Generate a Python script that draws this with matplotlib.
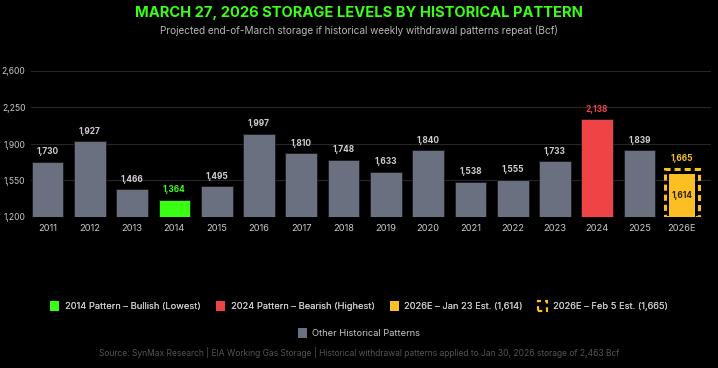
import matplotlib.pyplot as plt
from matplotlib.patches import Patch

# Data
years = ["2011", "2012", "2013", "2014", "2015", "2016", "2017", "2018",
         "2019", "2020", "2021", "2022", "2023", "2024", "2025", "2026E"]
storage = [1730, 1927, 1466, 1364, 1495, 1997, 1810, 1748,
           1633, 1840, 1538, 1555, 1733, 2138, 1839, 1614]
feb5_est = 1665
yticks = [1200, 1550, 1900, 2250, 2600]

GRAY = "#6b7080"
GREEN = "#39ff14"
RED = "#ef4446"
GOLD = "#fbbf24"
BG = "#000000"

plt.rcParams['font.family'] = ['Inter', 'DejaVu Sans']

fig = plt.figure(figsize=(7.18, 3.68), dpi=100, facecolor=BG)
ax = fig.add_axes([31 / 718, 1 - 217 / 368, 680 / 718, 146 / 368])
ax.set_facecolor(BG)

colors = []
label_colors = []
for y in years:
    if y == "2014":
        colors.append(GREEN); label_colors.append(GREEN)
    elif y == "2024":
        colors.append(RED); label_colors.append(RED)
    elif y == "2026E":
        colors.append(GOLD); label_colors.append(GOLD)
    else:
        colors.append(GRAY); label_colors.append("#d0d0d0")

x = list(range(len(years)))
base = yticks[0]
heights = [v - base for v in storage]

# all bars except the estimate
ax.bar(x[:-1], heights[:-1], width=0.75, bottom=base, color=colors[:-1],
       edgecolor="#1a1a1a", linewidth=0.6, zorder=3)
# estimate: filled Jan 23 bar and dashed Feb 5 outline
ax.bar(x[-1], heights[-1], width=0.63, bottom=base, color=GOLD, zorder=3)
ax.bar(x[-1], feb5_est - base, width=0.8, bottom=base, fill=False,
       edgecolor=GOLD, linewidth=2.2, linestyle=(0, (2, 1.3)), zorder=4)

for xi, v, c in zip(x[:-1], storage[:-1], label_colors[:-1]):
    ax.annotate(f"{v:,}", (xi, v), xytext=(0, 4), textcoords="offset points",
                ha="center", va="bottom", fontsize=6, fontweight="bold", color=c)
ax.annotate(f"{feb5_est:,}", (x[-1], feb5_est), xytext=(0, 4), textcoords="offset points",
            ha="center", va="bottom", fontsize=6, fontweight="bold", color=GOLD)
ax.text(x[-1], (base + storage[-1]) / 2, f"{storage[-1]:,}", ha="center", va="center",
        fontsize=6, fontweight="bold", color="#2a2000", zorder=5)

ax.set_xlim(-0.39, 15.69)
ax.set_ylim(1200, 2600)
ax.set_yticks(yticks)
ax.set_yticklabels([f"{t:,}" for t in yticks])
ax.set_xticks(x)
ax.set_xticklabels(years)
ax.tick_params(axis="both", length=0, labelsize=6.7, colors="#c8c8c8")
ax.tick_params(axis="x", pad=5)
ax.tick_params(axis="y", pad=4, labelsize=6.2)
ax.grid(axis="y", color="#262626", linewidth=0.8, zorder=0)
ax.set_axisbelow(True)
for s in ax.spines.values():
    s.set_visible(False)

# titles
fig.text(0.5, 1 - 13 / 368, "MARCH 27, 2026 STORAGE LEVELS BY HISTORICAL PATTERN",
         ha="center", va="center", fontsize=10.6, fontweight="bold", color=GREEN)
fig.text(0.5, 1 - 31 / 368,
         "Projected end-of-March storage if historical weekly withdrawal patterns repeat (Bcf)",
         ha="center", va="center", fontsize=7.2, color="#b8b8b8")

# legend
h1 = [Patch(facecolor=GREEN, label="2014 Pattern \u2013 Bullish (Lowest)"),
      Patch(facecolor=RED, label="2024 Pattern \u2013 Bearish (Highest)"),
      Patch(facecolor=GOLD, label="2026E \u2013 Jan 23 Est. (1,614)"),
      Patch(facecolor="none", edgecolor=GOLD, linestyle=(0, (2, 2)), linewidth=1.5,
            label="2026E \u2013 Feb 5 Est. (1,665)")]
leg1 = fig.legend(handles=h1, loc="center", bbox_to_anchor=(0.5, 1 - 306 / 368), ncol=4,
                  frameon=False, fontsize=6.7, labelcolor="#c8c8c8", handlelength=1.0,
                  handleheight=1.3, handletextpad=0.6, columnspacing=1.6)
fig.add_artist(leg1)
h2 = [Patch(facecolor=GRAY, label="Other Historical Patterns")]
fig.legend(handles=h2, loc="center", bbox_to_anchor=(0.5, 1 - 333 / 368), ncol=1,
           frameon=False, fontsize=6.7, labelcolor="#c8c8c8", handlelength=1.0,
           handleheight=1.3, handletextpad=0.6)

fig.text(0.5, 1 - 353 / 368,
         "Source: SynMax Research | EIA Working Gas Storage | Historical withdrawal patterns applied to Jan 30, 2026 storage of 2,463 Bcf",
         ha="center", va="center", fontsize=6.1, color="#555555")

fig.savefig("out.png", dpi=100, facecolor=BG)
